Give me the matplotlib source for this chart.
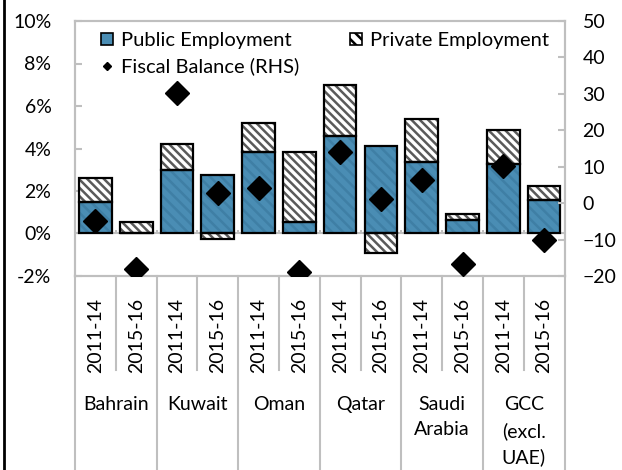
import numpy as np
import matplotlib.pyplot as plt
from matplotlib.patches import Patch
from matplotlib.lines import Line2D

plt.rcParams['font.family'] = ['Lato', 'DejaVu Sans']
plt.rcParams['hatch.linewidth'] = 1.8

# data
periods = ['2011-14', '2015-16'] * 6
countries = ['Bahrain', 'Kuwait', 'Oman', 'Qatar', 'Saudi\nArabia', 'GCC\n(excl.\nUAE)']
public = [1.49, 0.0, 3.00, 2.77, 3.85, 0.54, 4.61, 4.14, 3.38, 0.64, 3.29, 1.58]
private = [1.13, 0.54, 1.23, -0.27, 1.33, 3.31, 2.36, -0.92, 1.99, 0.28, 1.60, 0.67]
fiscal = [-5.0, -18.2, 30.1, 2.8, 4.1, -18.9, 14.0, 1.1, 6.3, -16.8, 10.2, -10.1]

blue = '#4a8db4'
grey = '#bfbfbf'

x = np.arange(len(periods))
public = np.array(public)
private = np.array(private)
bottom = np.where(private >= 0, public, 0)

fig = plt.figure(figsize=(6.22, 4.70), dpi=100)
ax = fig.add_axes([75 / 622, 1 - 276 / 470, 489.5 / 622, 255 / 470])

w = 0.8
ax.bar(x, public, w, color=blue, edgecolor='#3f7fa5', hatch='\\\\\\', linewidth=0, zorder=2)
ax.bar(x, public, w, color='none', edgecolor='black', linewidth=1.6, zorder=3)
ax.bar(x, private, w, bottom=bottom, color='white', edgecolor='#5a5a5a', hatch='\\\\\\\\', linewidth=0, zorder=2)
ax.bar(x, private, w, bottom=bottom, color='none', edgecolor='black', linewidth=1.6, zorder=3)

ax.axhline(0, color=grey, lw=1.5, zorder=1)
# small ticks on the zero line between categories
ax.vlines(np.arange(-0.5, 12, 1), 0, 0.15, color=grey, lw=1.5, zorder=1)

ax.set_xlim(-0.5, 11.5)
ax.set_ylim(-2, 10)
ax.set_yticks(np.arange(-2, 11, 2))
ax.set_yticklabels(['%d%%' % v for v in range(-2, 11, 2)])
ax.tick_params(axis='y', direction='in', length=5, width=1.5, color=grey, pad=17, labelsize=14)
ax.set_xticks(x)
ax.set_xticklabels(periods, rotation=90, fontsize=14)
ax.tick_params(axis='x', length=0, pad=16)
for s in ax.spines.values():
    s.set_color(grey)
    s.set_linewidth(1.5)

# category separators below the plot
for b in np.arange(-0.5, 12, 1):
    if b in (-0.5, 1.5, 3.5, 5.5, 7.5, 9.5, 11.5):
        y0 = -0.76
    else:
        y0 = -0.37
    ax.plot([b, b], [0, y0], transform=ax.get_xaxis_transform(), color=grey, lw=1.5, clip_on=False)
for i, c in enumerate(countries):
    ax.text(2 * i + 0.5, -0.47, c, transform=ax.get_xaxis_transform(), ha='center', va='top',
            fontsize=14, linespacing=1.6)

ax2 = ax.twinx()
ax2.plot(x, fiscal, 'D', color='black', ms=12.5, zorder=5)
ax2.set_ylim(-20, 50)
ax2.set_yticks(np.arange(-20, 51, 10))
ax2.tick_params(axis='y', direction='in', length=5, width=1.5, color=grey, pad=13, labelsize=14)
for s in ax2.spines.values():
    s.set_color(grey)
    s.set_linewidth(1.5)

handles = [Patch(facecolor=blue, edgecolor='black', linewidth=1.2),
           Line2D([], [], marker='D', color='black', ls='none', ms=4.5),
           Patch(facecolor='white', edgecolor='black', hatch='\\\\\\', linewidth=1.2)]
labels = ['Public Employment', 'Fiscal Balance (RHS)', 'Private Employment']
ax2.legend(handles, labels, ncol=2, loc='upper left', bbox_to_anchor=(0.02, 1.02), frameon=False,
           fontsize=14.5, handlelength=0.6, handleheight=0.6, handletextpad=0.4,
           columnspacing=2.5, labelspacing=0.42, borderaxespad=0.4)

# left border of the picture
fig.add_artist(Line2D([3.5 / 622, 3.5 / 622], [0, 1], color='black', lw=2))

fig.savefig('out.png', dpi=100)
